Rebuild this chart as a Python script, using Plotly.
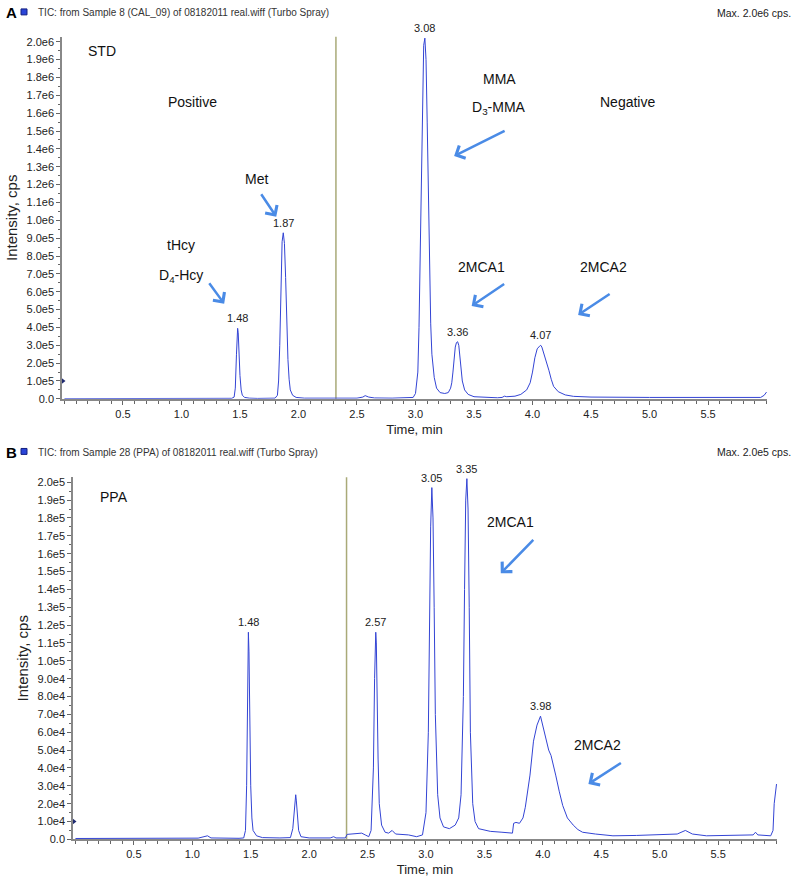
import plotly.graph_objects as go

# ---- data ----
std_time = [0.0, 0.3, 0.6, 0.9, 1.2, 1.40, 1.43, 1.45, 1.46, 1.47, 1.475, 1.48, 1.485, 1.49, 1.50,
            1.51, 1.52, 1.54, 1.58, 1.65, 1.75, 1.80, 1.82, 1.83, 1.84, 1.85, 1.86, 1.87, 1.88,
            1.89, 1.90, 1.91, 1.92, 1.93, 1.95, 1.98, 2.05, 2.2, 2.4, 2.50, 2.55, 2.57, 2.60,
            2.65, 2.8, 2.95, 2.98, 3.00, 3.02, 3.03, 3.04, 3.05, 3.06, 3.07, 3.08, 3.09, 3.10,
            3.11, 3.12, 3.13, 3.14, 3.16, 3.18, 3.21, 3.25, 3.28, 3.30, 3.31, 3.32, 3.33, 3.34,
            3.35, 3.36, 3.37, 3.38, 3.39, 3.40, 3.42, 3.45, 3.50, 3.60, 3.70, 3.74, 3.76, 3.78,
            3.85, 3.90, 3.95, 3.98, 4.00, 4.02, 4.04, 4.06, 4.07, 4.08, 4.10, 4.12, 4.14, 4.16,
            4.18, 4.22, 4.28, 4.35, 4.50, 5.00, 5.50, 5.90, 5.95, 5.98, 6.00]
std_cps = [1000, 1500, 1500, 1500, 2000, 2000, 3000, 10000, 60000, 250000, 360000, 395000, 370000,
           280000, 130000, 50000, 20000, 8000, 4000, 2500, 2500, 4000, 20000, 100000, 300000,
           650000, 880000, 930000, 870000, 680000, 420000, 220000, 110000, 50000, 20000, 8000,
           4000, 3000, 3000, 4000, 10000, 18000, 10000, 5000, 4000, 5000, 8000, 30000, 150000,
           400000, 800000, 1300000, 1750000, 1980000, 2020000, 1900000, 1550000, 1100000, 700000,
           420000, 250000, 120000, 60000, 35000, 30000, 35000, 60000, 90000, 150000, 230000,
           290000, 315000, 320000, 300000, 240000, 160000, 100000, 50000, 25000, 12000, 8000,
           6000, 8000, 15000, 12000, 15000, 25000, 50000, 90000, 150000, 230000, 280000, 295000,
           300000, 290000, 250000, 210000, 160000, 110000, 70000, 40000, 22000, 14000, 10000,
           8000, 7000, 6000, 8000, 20000, 38000]

ppa_time = [0.0, 0.3, 0.6, 0.9, 1.05, 1.10, 1.13, 1.16, 1.25, 1.40, 1.44, 1.455, 1.465, 1.47, 1.475,
            1.48, 1.485, 1.49, 1.50, 1.51, 1.52, 1.55, 1.60, 1.75, 1.84, 1.86, 1.87, 1.88, 1.885,
            1.89, 1.90, 1.91, 1.93, 2.00, 2.18, 2.21, 2.23, 2.31, 2.325, 2.40, 2.45, 2.48, 2.51,
            2.53, 2.55, 2.56, 2.565, 2.57, 2.575, 2.58, 2.59, 2.60, 2.62, 2.65, 2.68, 2.71, 2.74,
            2.85, 2.92, 2.97, 3.00, 3.02, 3.03, 3.04, 3.05, 3.06, 3.07, 3.08, 3.10, 3.12, 3.15,
            3.20, 3.25, 3.28, 3.30, 3.32, 3.33, 3.34, 3.35, 3.36, 3.37, 3.38, 3.40, 3.42, 3.45,
            3.55, 3.65, 3.74, 3.75, 3.77, 3.80, 3.83, 3.85, 3.89, 3.92, 3.95, 3.98, 4.00, 4.02,
            4.05, 4.07, 4.09, 4.11, 4.14, 4.17, 4.21, 4.26, 4.30, 4.34, 4.45, 4.60, 4.80, 5.00,
            5.15, 5.22, 5.28, 5.40, 5.60, 5.80, 5.82, 5.84, 5.95, 5.97, 5.98, 6.00]
ppa_cps = [500, 600, 500, 600, 700, 1500, 2000, 800, 600, 600, 800, 5000, 30000, 65000, 100000,
           116000, 105000, 70000, 30000, 12000, 5000, 2000, 1000, 800, 1000, 6000, 16000, 24000,
           25000, 22000, 12000, 5000, 1500, 800, 800, 1500, 800, 800, 2800, 3000, 3500, 2500,
           1500, 5000, 40000, 90000, 110000, 116000, 110000, 85000, 45000, 20000, 8000, 4000,
           3500, 5000, 3000, 2500, 1500, 2500, 15000, 60000, 120000, 175000, 197000, 180000,
           130000, 70000, 25000, 12000, 7000, 6000, 8000, 12000, 25000, 80000, 140000, 190000,
           202000, 185000, 130000, 60000, 20000, 10000, 6000, 4500, 4000, 3500, 9000, 9500, 9000,
           12000, 18000, 36000, 55000, 64000, 69000, 63000, 58000, 50000, 47000, 42000, 36000,
           27000, 19000, 12000, 8000, 5500, 4000, 3000, 2000, 2200, 2500, 3000, 5000, 3000, 2000,
           2200, 2500, 4000, 2500, 2000, 5000, 20000, 31000]

std_peak_time = [1.48, 1.87, 3.08, 3.36, 4.07]
std_peak_cps = [395000, 930000, 2020000, 320000, 300000]
std_peak_text = ["1.48", "1.87", "3.08", "3.36", "4.07"]
ppa_peak_time = [1.48, 2.57, 3.05, 3.35, 3.98]
ppa_peak_cps = [116000, 116000, 197000, 202000, 69000]
ppa_peak_text = ["1.48", "2.57", "3.05", "3.35", "3.98"]

polarity_switch = 2.32          # min, positive -> negative mode
std_threshold = 1.0e5
ppa_threshold = 1.0e4
marker_times = [1.15, 4.16]

x_tick_vals = [0.5, 1.0, 1.5, 2.0, 2.5, 3.0, 3.5, 4.0, 4.5, 5.0, 5.5]
x_tick_text = ["0.5", "1.0", "1.5", "2.0", "2.5", "3.0", "3.5", "4.0", "4.5", "5.0", "5.5"]
std_tick_vals = [i * 1.0e5 for i in range(21)]
std_tick_text = ["0.0", "1.0e5", "2.0e5", "3.0e5", "4.0e5", "5.0e5", "6.0e5", "7.0e5", "8.0e5",
                 "9.0e5", "1.0e6", "1.1e6", "1.2e6", "1.3e6", "1.4e6", "1.5e6", "1.6e6", "1.7e6",
                 "1.8e6", "1.9e6", "2.0e6"]
ppa_tick_vals = [i * 1.0e4 for i in range(21)]
ppa_tick_text = ["0.0", "1.0e4", "2.0e4", "3.0e4", "4.0e4", "5.0e4", "6.0e4", "7.0e4", "8.0e4",
                 "9.0e4", "1.0e5", "1.1e5", "1.2e5", "1.3e5", "1.4e5", "1.5e5", "1.6e5", "1.7e5",
                 "1.8e5", "1.9e5", "2.0e5"]

# text labels (time, cps, text)
std_labels = [(0.32, 1.95e6, "STD"), (1.09, 1.66e6, "Positive"), (3.72, 1.79e6, "MMA"),
              (3.71, 1.63e6, "D<sub>3</sub>-MMA"), (4.81, 1.66e6, "Negative"),
              (1.645, 1.23e6, "Met"), (1.0, 8.6e5, "tHcy"), (1.0, 6.9e5, "D<sub>4</sub>-Hcy"),
              (3.56, 7.4e5, "2MCA1"), (4.61, 7.4e5, "2MCA2")]
ppa_labels = [(0.33, 1.92e5, "PPA"), (3.72, 1.78e5, "2MCA1"), (4.47, 5.3e4, "2MCA2")]
# arrows: head (time, cps), tail offset in px
std_arrows = [(1.81, 1.02e6, -16, -24), (1.365, 5.33e5, -16, -22), (3.33, 1.36e6, 52, -26),
              (3.48, 5.2e5, 34, -23), (4.39, 4.7e5, 33, -22)]
ppa_arrows = [(3.64, 1.49e5, 34, -35), (4.39, 3.1e4, 34, -22)]

W, H = 797, 894
FONT = "Liberation Sans, Arial, Helvetica, sans-serif"
TRACE = "#3344d4"
ARROW = "#4a8be6"

fig = go.Figure()
fig.add_trace(go.Scatter(x=std_time, y=std_cps, mode="lines", line=dict(color=TRACE, width=1),
                         xaxis="x", yaxis="y", cliponaxis=False))
fig.add_trace(go.Scatter(x=ppa_time, y=ppa_cps, mode="lines", line=dict(color=TRACE, width=1),
                         xaxis="x2", yaxis="y2", cliponaxis=False))

# threshold triangles on the y axis and green markers below the time axis
fig.add_trace(go.Scatter(x=[-0.021], y=[std_threshold], mode="markers", xaxis="x", yaxis="y",
                         marker=dict(symbol="triangle-right", size=7, color="#1f2a70"), cliponaxis=False))
fig.add_trace(go.Scatter(x=[-0.021], y=[ppa_threshold], mode="markers", xaxis="x2", yaxis="y2",
                         marker=dict(symbol="triangle-right", size=7, color="#1f2a70"), cliponaxis=False))
fig.add_trace(go.Scatter(x=marker_times, y=[-0.5e5] * 2, mode="markers", xaxis="x", yaxis="y",
                         marker=dict(symbol="arrow-down", size=6, color="#2e9e6e"), cliponaxis=False))
fig.add_trace(go.Scatter(x=marker_times, y=[-0.5e4] * 2, mode="markers", xaxis="x2", yaxis="y2",
                         marker=dict(symbol="arrow-down", size=6, color="#2e9e6e"), cliponaxis=False))

ann = []
for xr, yr, pt, pc, ptxt in [("x", "y", std_peak_time, std_peak_cps, std_peak_text),
                             ("x2", "y2", ppa_peak_time, ppa_peak_cps, ppa_peak_text)]:
    for t, c, s in zip(pt, pc, ptxt):
        ann.append(dict(x=t, y=c, xref=xr, yref=yr, text=s, showarrow=False, yanchor="bottom",
                        yshift=2, font=dict(size=11, color="#222", family=FONT)))
for xr, yr, labels in [("x", "y", std_labels), ("x2", "y2", ppa_labels)]:
    for t, c, s in labels:
        ann.append(dict(x=t, y=c, xref=xr, yref=yr, text=s, showarrow=False,
                        font=dict(size=14, color="#111", family=FONT)))
for xr, yr, arrows in [("x", "y", std_arrows), ("x2", "y2", ppa_arrows)]:
    for t, c, ax, ay in arrows:
        ann.append(dict(x=t, y=c, xref=xr, yref=yr, text="", showarrow=True, ax=ax, ay=ay,
                        arrowhead=4, arrowsize=1.1, arrowwidth=2.5, arrowcolor=ARROW))

# panel headers
for top, letter, title, mx in [(12, "A", "TIC: from Sample 8 (CAL_09) of 08182011 real.wiff (Turbo Spray)",
                                "Max. 2.0e6 cps."),
                               (455, "B", "TIC: from Sample 28 (PPA) of 08182011 real.wiff (Turbo Spray)",
                                "Max. 2.0e5 cps.")]:
    yp = 1 - top / H
    ann.append(dict(x=4 / W, y=yp, xref="paper", yref="paper", text="<b>%s</b>" % letter,
                    showarrow=False, xanchor="left", yanchor="middle",
                    font=dict(size=15, color="#000", family=FONT)))
    ann.append(dict(x=36 / W, y=yp, xref="paper", yref="paper", text=title, showarrow=False,
                    xanchor="left", yanchor="middle", font=dict(size=10, color="#333", family=FONT)))
    ann.append(dict(x=793 / W, y=yp, xref="paper", yref="paper", text=mx, showarrow=False,
                    xanchor="right", yanchor="middle", align="right",
                    font=dict(size=10.5, color="#222", family=FONT)))

shapes = []
for top in [12, 455]:
    shapes.append(dict(type="rect", xref="paper", yref="paper", x0=21 / W, x1=27 / W,
                       y0=1 - (top + 2) / H, y1=1 - (top - 4) / H,
                       fillcolor="#2a45d8", line=dict(color="#142080", width=1)))
for xr in ["x", "x2"]:
    shapes.append(dict(type="line", xref=xr, yref=("y" if xr == "x" else "y2") + " domain",
                       x0=polarity_switch, x1=polarity_switch, y0=0, y1=1,
                       line=dict(color="#a9aa78", width=1.5), layer="below"))

axis_font = dict(size=11, color="#222", family=FONT)
x_common = dict(range=[-0.021, 6.004], tickvals=x_tick_vals, ticktext=x_tick_text, ticks="outside",
                ticklen=4, tickcolor="#666", showline=True, linecolor="#888", linewidth=1.5,
                showgrid=False, zeroline=False, tickfont=axis_font,
                minor=dict(tickmode="linear", tick0=0, dtick=0.1, ticks="outside", ticklen=3,
                           tickcolor="#666"),
                title=dict(text="Time, min", font=dict(size=13, color="#222", family=FONT), standoff=6))
y_common = dict(ticks="outside", ticklen=4, tickcolor="#666", showline=True, linecolor="#888",
                linewidth=1.5, showgrid=False, zeroline=False, tickfont=axis_font,
                title=dict(text="Intensity, cps", font=dict(size=15, color="#222", family=FONT), standoff=5))

fig.update_layout(
    width=W, height=H, margin=dict(l=0, r=0, t=0, b=0),
    paper_bgcolor="white", plot_bgcolor="white", showlegend=False,
    xaxis=dict(domain=[62 / W, 767 / W], anchor="y", **x_common),
    yaxis=dict(domain=[1 - 401 / H, 1 - 36 / H], anchor="x", range=[0, 2.028e6],
               tickvals=std_tick_vals, ticktext=std_tick_text,
               minor=dict(tickmode="linear", tick0=0, dtick=5e4, ticks="outside", ticklen=2,
                          tickcolor="#666"), **y_common),
    xaxis2=dict(domain=[73 / W, 777 / W], anchor="y2", **x_common),
    yaxis2=dict(domain=[1 - 845 / H, 1 - 480 / H], anchor="x2", range=[0, 2.028e5],
                tickvals=ppa_tick_vals, ticktext=ppa_tick_text,
                minor=dict(tickmode="linear", tick0=0, dtick=5e3, ticks="outside", ticklen=2,
                           tickcolor="#666"), **y_common),
    annotations=ann, shapes=shapes,
)

# drop the page's default body margin so the figure sits at the window's corner
fig.write_html("out.html", config={"displayModeBar": False},
               post_script="document.body.style.margin='0px';"
                           "document.body.style.overflow='hidden';")
